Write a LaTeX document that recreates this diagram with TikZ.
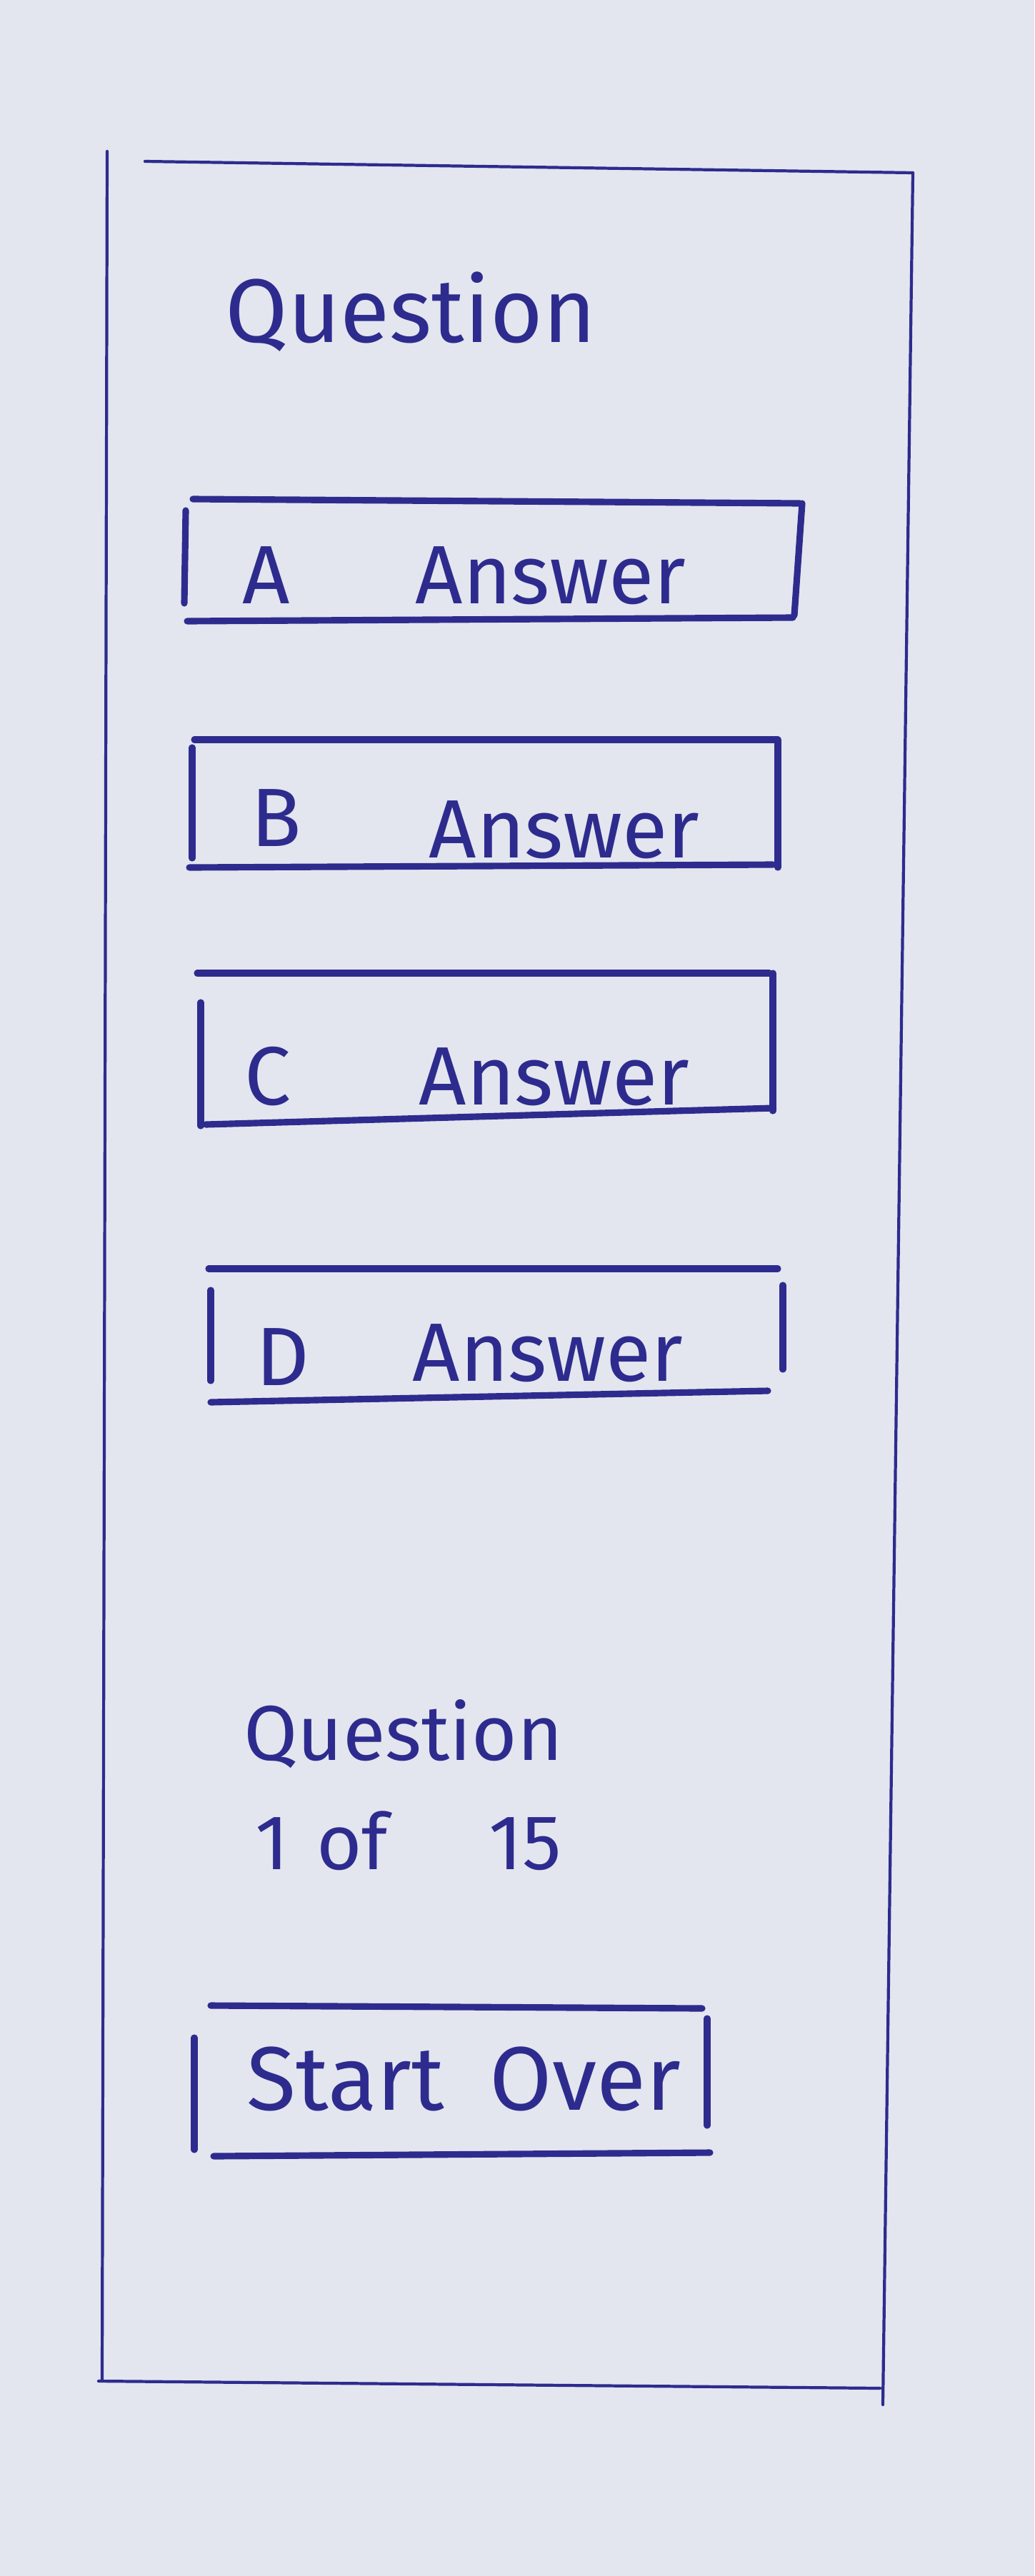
\documentclass[tikz,border=0pt]{standalone}
\usepackage{fontspec}
\setmainfont{Fira Sans}
\usepackage{tikz}

\definecolor{paper}{HTML}{E3E6EE}
\definecolor{ink}{HTML}{2E2B8E}

\begin{document}
\begin{tikzpicture}[x=1cm,y=-1cm,
		frame/.style={ink,line width=1.2pt,line cap=round},
		pen/.style={ink,line width=2.6pt,line cap=round},
		hand/.style={ink,inner sep=0pt,font=\fontsize{33}{36}\selectfont}]
	\fill[paper] (0,0) rectangle (14.48,36.08);
	% phone frame
	\draw[frame] (2.03,2.26) -- (12.78,2.42);
	\draw[frame] (1.50,2.12) -- (1.43,33.35);
	\draw[frame] (1.38,33.35) -- (12.32,33.45);
	\draw[frame] (12.78,2.42) -- (12.36,33.68);
	% title
	\node[hand,font=\fontsize{36}{40}\selectfont] (title) at (5.75,4.37) {Question};
	% answer A
	\draw[pen] (2.60,7.15) -- (2.58,8.45);
	\draw[pen] (2.70,6.99) -- (11.20,7.05);
	\draw[pen] (11.23,7.05) -- (11.12,8.62);
	\draw[pen] (2.62,8.70) -- (11.10,8.65);
	\node[hand] (keyA) at (3.73,8.06) {A};
	\node[hand] (ansA) at (7.71,8.06) {Answer};
	% answer B
	\draw[pen] (2.69,10.47) -- (2.69,12.02);
	\draw[pen] (2.72,10.36) -- (10.89,10.36);
	\draw[pen] (10.89,10.36) -- (10.89,12.15);
	\draw[pen] (2.65,12.15) -- (10.82,12.11);
	\node[hand] (keyB) at (3.87,11.46) {B};
	\node[hand] (ansB) at (7.90,11.62) {Answer};
	% answer C
	\draw[pen] (2.81,14.04) -- (2.81,15.77);
	\draw[pen] (2.76,13.63) -- (10.77,13.63);
	\draw[pen] (10.82,13.63) -- (10.82,15.56);
	\draw[pen] (2.88,15.75) -- (10.82,15.52);
	\node[hand] (keyC) at (3.75,15.08) {C};
	\node[hand] (ansC) at (7.76,15.08) {Answer};
	% answer D
	\draw[pen] (2.95,18.07) -- (2.95,19.34);
	\draw[pen] (2.92,17.77) -- (10.89,17.77);
	\draw[pen] (10.96,18.00) -- (10.96,19.18);
	\draw[pen] (2.95,19.64) -- (10.75,19.48);
	\node[hand] (keyD) at (3.96,19.01) {D};
	\node[hand] (ansD) at (7.67,18.95) {Answer};
	% progress
	\node[hand,anchor=west,font=\fontsize{31}{34}\selectfont] (prog) at (3.41,24.29) {Question};
	\node[hand,anchor=west,font=\fontsize{31}{34}\selectfont] (count) at (3.57,25.78) {1\hspace{0.35em}of\hspace{1.3em}15};
	% start over button
	\draw[pen] (2.72,28.54) -- (2.72,30.11);
	\draw[pen] (2.95,28.09) -- (9.83,28.13);
	\draw[pen] (9.90,28.27) -- (9.90,29.77);
	\draw[pen] (2.99,30.20) -- (9.94,30.15);
	\node[hand,font=\fontsize{36}{40}\selectfont] (restart) at (6.49,29.12) {Start\hspace{0.5em}Over};
\end{tikzpicture}
\end{document}
